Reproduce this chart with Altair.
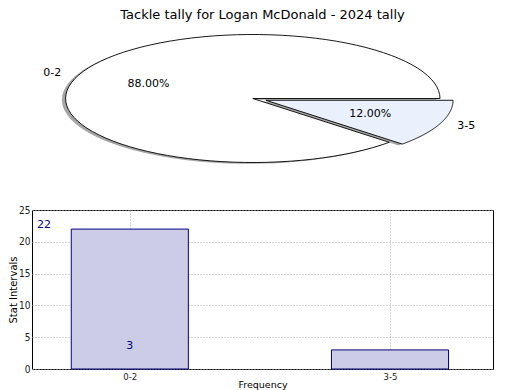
import json
import altair as alt
import pandas as pd

# ---------------- data ----------------
categories = ["0-2", "3-5"]
counts = [22, 3]
explode = [0.0, 0.075]
count_label_x = [-0.33, 0.0]   # where the count labels sit along the bar axis
title_text = "Tackle tally for Logan McDonald - 2024 tally"
y_ticks = [0, 5, 10, 15, 20, 25]

pie_colors = ["#FFFFFF", "#EAF1FD"]

pie_df = pd.DataFrame({
    "category": categories,
    "count": counts,
    "explode": explode,
    "order": list(range(len(categories))),
})
bar_df = pd.DataFrame({
    "category": categories,
    "count": counts,
    "idx": list(range(len(categories))),
    "label_x": count_label_x,
})

# ---------------- layout constants ----------------
L = 32.0                      # page x of the panels' plot origin
PIE_W = 461
PIE_H = 166
RX, RY = 187.2, 64.0          # pixel radii of the squashed pie
CX_PIX, CY_PIX = 252.8 - L, 72.5
pie_xd = [-CX_PIX / RX, (PIE_W - CX_PIX) / RX]
pie_yd = [(CY_PIX - PIE_H) / RY, CY_PIX / RY]

BAR_W = 461
BAR_H = 159
BAR_STEP = 260.2
BAR_C0 = 129.8 - L
bar_xd = [-BAR_C0 / BAR_STEP, (BAR_W - BAR_C0) / BAR_STEP]
HALF = 0.225
N = 90

FONT = "DejaVu Sans"
NARROW = "Liberation Sans Narrow, DejaVu Sans Condensed, Liberation Sans"

# ---------------- pie ----------------
pie_base = (
    alt.Chart(pie_df)
    .transform_joinaggregate(total="sum(count)")
    .transform_window(cum_end="sum(count)", sort=[alt.SortField("order")])
    .transform_calculate(a0="2*PI*(datum.cum_end - datum.count)/datum.total")
    .transform_calculate(a1="2*PI*datum.cum_end/datum.total")
    .transform_calculate(mid="(datum.a0 + datum.a1)/2")
    .transform_calculate(cx="datum.explode*cos(datum.mid)")
    .transform_calculate(cy="datum.explode*sin(datum.mid)")
)

poly = (
    pie_base
    .transform_calculate(pts=f"sequence(-1, {N + 2})")
    .transform_flatten(["pts"], as_=["i"])
    .transform_calculate(t=f"clamp(datum.i, 0, {N})/{N}")
    .transform_calculate(ang="datum.a0 + (datum.a1 - datum.a0)*datum.t")
    .transform_calculate(edge=f"(datum.i >= 0 && datum.i <= {N}) ? 1 : 0")
    .transform_calculate(px="datum.cx + datum.edge*cos(datum.ang)")
    .transform_calculate(py="datum.cy + datum.edge*sin(datum.ang)")
)

xs = alt.Scale(domain=pie_xd, nice=False, zero=False)
ys = alt.Scale(domain=pie_yd, nice=False, zero=False)

enc = dict(
    x=alt.X("px:Q", scale=xs, axis=None),
    y=alt.Y("py:Q", scale=ys, axis=None),
    order=alt.Order("i:Q"),
    detail=alt.Detail("category:N"),
)

shadow = poly.mark_line(
    fill="#4d4d4d", fillOpacity=0.5, strokeOpacity=0, xOffset=-3.7, yOffset=1.3
).encode(**enc)

wedges = poly.mark_line(stroke="black", strokeWidth=0.9).encode(
    fill=alt.Fill("category:N", scale=alt.Scale(domain=categories, range=pie_colors), legend=None),
    **enc,
)

lab = (
    pie_base
    .transform_calculate(lx="datum.cx + 1.1*cos(datum.mid)")
    .transform_calculate(ly="datum.cy + 1.1*sin(datum.mid)")
    .transform_calculate(tx="datum.cx + 0.6*cos(datum.mid)")
    .transform_calculate(ty="datum.cy + 0.6*sin(datum.mid)")
    .transform_calculate(pct="format(datum.count/datum.total, '.2%')")
)
lab_enc = dict(
    x=alt.X("lx:Q", scale=xs, axis=None),
    y=alt.Y("ly:Q", scale=ys, axis=None),
    text="category:N",
)
lab_left = lab.transform_filter("datum.lx < 0").mark_text(
    align="right", baseline="middle", font=FONT, fontSize=11, color="black"
).encode(**lab_enc)
lab_right = lab.transform_filter("datum.lx >= 0").mark_text(
    align="left", baseline="middle", font=FONT, fontSize=11, color="black"
).encode(**lab_enc)
pct = lab.mark_text(
    align="center", baseline="middle", font=FONT, fontSize=11, color="black"
).encode(
    x=alt.X("tx:Q", scale=xs, axis=None),
    y=alt.Y("ty:Q", scale=ys, axis=None),
    text="pct:N",
)

pie = alt.layer(shadow, wedges, lab_left, lab_right, pct).properties(
    width=PIE_W,
    height=PIE_H,
    title=alt.TitleParams(title_text, font=FONT, fontSize=13, fontWeight="normal",
                          color="black", anchor="middle", offset=4),
    view=alt.ViewBackground(stroke="transparent"),
)

# ---------------- bars ----------------
label_expr = json.dumps(categories) + "[datum.value]"

xb = alt.Scale(domain=bar_xd, nice=False, zero=False)
yb = alt.Scale(domain=[0, 25], nice=False, zero=True)
x_axis = alt.Axis(values=list(range(len(categories))), labelExpr=label_expr,
                  grid=True, gridDash=[1, 2], gridColor="#a8a8a8",
                  domain=False, ticks=False, labelFont=NARROW,
                  labelFontSize=9.5, labelColor="#222222", labelPadding=2,
                  titleFont=FONT, titleFontSize=9.5, titleFontWeight="normal",
                  titleColor="black", titlePadding=-1)
y_axis = alt.Axis(values=y_ticks, grid=True, gridDash=[1, 2], gridColor="#a8a8a8",
                  domain=False, ticks=False, labelFont=NARROW, labelFontSize=10,
                  labelColor="#222222", labelPadding=2, labelOverlap=False,
                  titleFont=FONT, titleFontSize=10, titleFontWeight="normal",
                  titleColor="black", titlePadding=0)

bars = (
    alt.Chart(bar_df)
    .transform_calculate(x0=f"datum.idx - {HALF}", x1=f"datum.idx + {HALF}")
    .mark_bar(fill="#CCCCE6", stroke="#000080", strokeWidth=1)
    .encode(
        x=alt.X("x0:Q", scale=xb, title="Frequency", axis=x_axis),
        x2="x1:Q",
        y=alt.Y("count:Q", scale=yb, title="Stat Intervals", axis=y_axis),
        y2=alt.datum(0),
    )
)
count_text = alt.Chart(bar_df).mark_text(
    font=FONT, fontSize=11, color="#00008B", baseline="middle", align="center", dy=-4
).encode(
    x=alt.X("label_x:Q", scale=xb, title="Frequency", axis=x_axis),
    y=alt.Y("count:Q", scale=yb, title="Stat Intervals", axis=y_axis),
    text="count:Q",
)
bar_chart = alt.layer(bars, count_text).properties(width=BAR_W, height=BAR_H)

chart = (
    alt.vconcat(pie, bar_chart, spacing=11)
    .properties(padding=0, background="white")
    .configure_view(stroke="black", strokeWidth=1)
)

chart.save("out.html", embed_options={"renderer": "svg", "actions": False})
